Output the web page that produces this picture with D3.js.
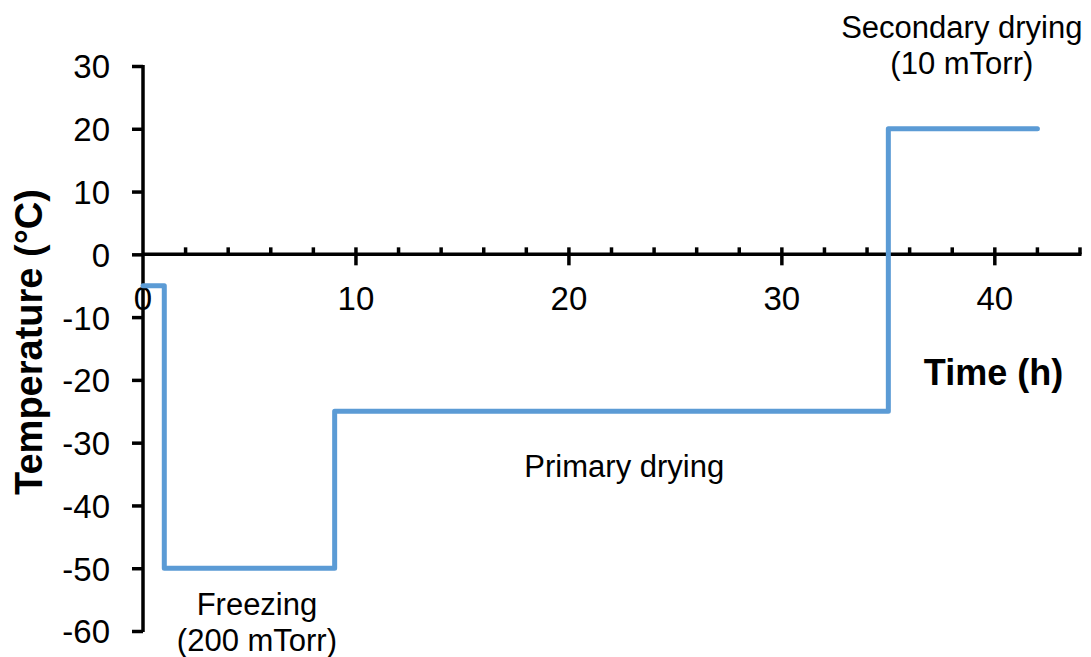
<!DOCTYPE html>
<html>
<head>
<meta charset="utf-8">
<script src="https://cdn.jsdelivr.net/npm/d3@7"></script>
<style>
  body { margin: 0; background: #fff; }
  text { font-family: "Liberation Sans", Arial, sans-serif; fill: #000; }
</style>
</head>
<body>
<svg id="chart" width="1091" height="657"></svg>
<script>
// Freeze-drying temperature programme (step profile)
const timeH = [0, 1, 1, 9, 9, 35, 35, 42];
const tempC = [-5, -5, -50, -50, -25, -25, 20, 20];

const yTicks = [-60, -50, -40, -30, -20, -10, 0, 10, 20, 30];
const xMajorTicks = [0, 10, 20, 30, 40];
const xMinorTicks = [2, 4, 6, 8, 12, 14, 16, 18, 22, 24, 26, 28, 32, 34, 36, 38, 42, 44];

const phaseLabels = [
  { lines: ["Primary drying"], x: 22.6, y: -35.5 },
  { lines: ["Freezing", "(200 mTorr)"], x: 5.35, y: -57.4 },
  { lines: ["Secondary drying", "(10 mTorr)"], x: 38.45, y: 34.5 }
];

const svg = d3.select("#chart");
const x = d3.scaleLinear().domain([0, 44]).range([143, 1080]);
const y = d3.scaleLinear().domain([-60, 30]).range([631, 66]);

// y axis
const yAxis = svg.append("g").attr("transform", `translate(${x(0)},0)`)
  .call(d3.axisLeft(y).tickValues(yTicks).tickSize(11).tickPadding(22)
    .tickFormat(d => String(d)));
yAxis.select(".domain").attr("stroke", "#000").attr("stroke-width", 3.5)
  .attr("d", `M0,${y(-60) + 1}V${y(30) - 1}`);
yAxis.selectAll(".tick line").attr("stroke", "#000").attr("stroke-width", 3.5);
yAxis.selectAll(".tick text").style("font-size", "33px").attr("dy", "0.36em");

// x axis drawn through y = 0
const xg = svg.append("g").attr("transform", `translate(0,${y(0)})`);
xg.append("line").attr("x1", x(0)).attr("x2", x(44) + 1.5).attr("stroke", "#000").attr("stroke-width", 3.5);
xg.selectAll(".minor").data(xMinorTicks).join("line")
  .attr("x1", d => x(d)).attr("x2", d => x(d)).attr("y1", -7).attr("y2", 0)
  .attr("stroke", "#000").attr("stroke-width", 3.5);
xg.selectAll(".major").data(xMajorTicks.filter(d => d > 0)).join("line")
  .attr("x1", d => x(d)).attr("x2", d => x(d)).attr("y1", -7).attr("y2", 11)
  .attr("stroke", "#000").attr("stroke-width", 3.5);
xg.selectAll(".lbl").data(xMajorTicks).join("text")
  .attr("x", d => x(d)).attr("y", 56)
  .attr("text-anchor", "middle").style("font-size", "33px").text(d => d);

// profile line
const pts = timeH.map((t, i) => [t, tempC[i]]);
svg.append("path").datum(pts)
  .attr("d", d3.line().x(d => x(d[0])).y(d => y(d[1])))
  .attr("fill", "none").attr("stroke", "#5B9BD5").attr("stroke-width", 5)
  .attr("stroke-linejoin", "round").attr("stroke-linecap", "round");

// axis titles
svg.append("text").attr("transform", `translate(42,342) rotate(-90)`)
  .attr("text-anchor", "middle").style("font-size", "38px").style("font-weight", "bold")
  .text("Temperature (°C)");
svg.append("text").attr("x", 993.5).attr("y", 385).attr("text-anchor", "middle")
  .style("font-size", "36px").style("font-weight", "bold").text("Time (h)");

// phase annotations
phaseLabels.forEach(p => {
  const t = svg.append("text").attr("text-anchor", "middle").style("font-size", "31px");
  p.lines.forEach((s, i) => {
    t.append("tspan").attr("x", x(p.x)).attr("y", y(p.y) + i * 36).text(s);
  });
});
</script>
</body>
</html>
